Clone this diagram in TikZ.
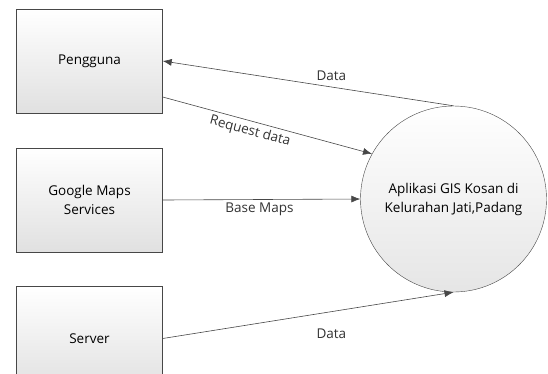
\documentclass[tikz,border=0pt]{standalone}
\usepackage{fontspec}
\setmainfont{Open Sans}
\usetikzlibrary{arrows.meta}

\newcommand*{\boxw}{146pt}
\newcommand*{\boxh}{104pt}
\newcommand*{\linecol}{black!72}

\tikzset{
	entity/.style={draw=\linecol,rectangle,minimum width=\boxw,minimum height=\boxh,
		top color=white,bottom color=black!12,align=center,font=\fontsize{13.5}{19}\selectfont},
	process/.style={draw=\linecol,circle,minimum size=186pt,inner sep=0pt,
		top color=white,bottom color=black!10,align=center,font=\fontsize{13.5}{19}\selectfont},
	flow/.style={draw=\linecol,semithick,-{Latex[length=9pt,width=7pt]}},
	lbl/.style={font=\fontsize{13.5}{16}\selectfont,text=black!80}
}

\begin{document}
\begin{tikzpicture}[x=1pt,y=-1pt]

	\useasboundingbox (0,0) rectangle (548,373);

	% external entities
	\node[entity] (pengguna) at (89.5,61) {Pengguna};
	\node[entity] (google) at (89.5,200) {Google Maps\\Services};
	\node[entity] (server) at (89.5,338.5) {Server};

	% the system
	\node[process] (app) at (453.5,199) {Aplikasi GIS Kosan di\\Kelurahan Jati,Padang};

	% flows
	\draw[flow] (app.north) -- node[lbl,pos=0.42,above=3pt] {Data} (pengguna.east);
	\draw[flow] ([yshift=-36pt]pengguna.east) -- node[lbl,pos=0.43,below,sloped] {Request data} (app.151);
	\draw[flow] (google.east) -- node[lbl,pos=0.49,below] {Base Maps} (app.west);
	\draw[flow] (server.east) -- node[lbl,pos=0.58,below=14pt] {Data} (app.south);

\end{tikzpicture}
\end{document}
